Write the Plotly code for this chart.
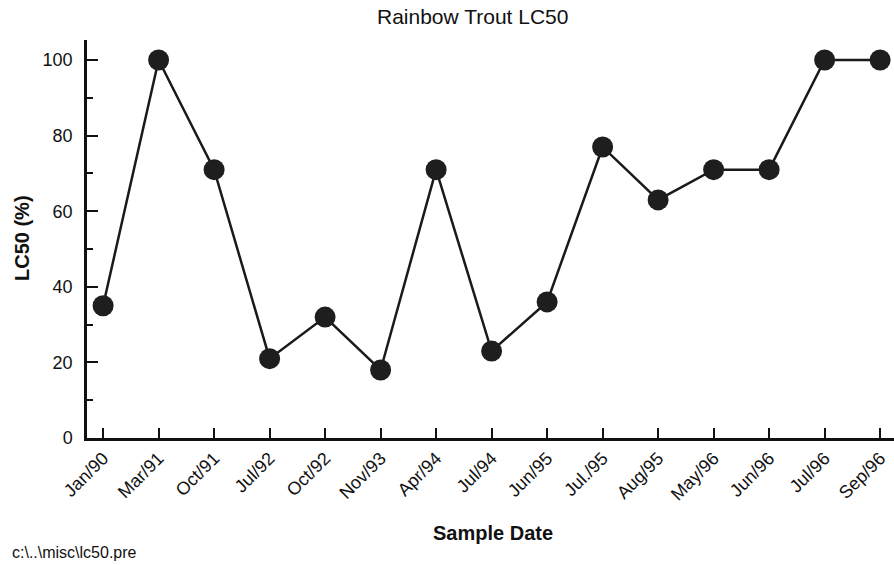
import plotly.graph_objects as go

dates = ["Jan/90", "Mar/91", "Oct/91", "Jul/92", "Oct/92", "Nov/93", "Apr/94", "Jul/94",
         "Jun/95", "Jul./95", "Aug/95", "May/96", "Jun/96", "Jul/96", "Sep/96"]
lc50 = [35, 100, 71, 21, 32, 18, 71, 23, 36, 77, 63, 71, 71, 100, 100]
y_ticks = [0, 20, 40, 60, 80, 100]

W, H = 894, 565
L, R, T, B = 87, 0, 40, 127
PW, PH = W - L - R, H - T - B


def px(x):
    return (x - L) / PW


def py(y):
    return (H - B - y) / PH


fig = go.Figure()
fig.add_trace(go.Scatter(
    x=list(range(len(dates))), y=lc50, mode="lines+markers",
    line=dict(color="#1a1a1a", width=2.5),
    marker=dict(size=21, color="#1e1e1e"),
    showlegend=False, cliponaxis=False,
))

font = "Liberation Sans, Arial, Helvetica, sans-serif"
fig.update_layout(
    width=W, height=H,
    margin=dict(l=L, r=R, t=T, b=B, autoexpand=False),
    paper_bgcolor="white", plot_bgcolor="white",
    font=dict(family=font, color="#111111"),
)
fig.update_xaxes(
    range=[-0.29, 14.25], automargin=False,
    tickmode="array", tickvals=list(range(len(dates))), ticktext=dates,
    tickangle=-45, tickfont=dict(size=18),
    ticks="inside", ticklen=10, tickwidth=2, tickcolor="#111111",
    showline=True, linecolor="#111111", linewidth=2.5,
    showgrid=False, zeroline=False,
)
fig.update_yaxes(
    range=[0, 105.3], automargin=False,
    tickmode="array", tickvals=y_ticks,
    tickfont=dict(size=18), ticklabelstandoff=8,
    ticks="inside", ticklen=11, tickwidth=2, tickcolor="#111111",
    minor=dict(ticks="inside", ticklen=6, tickwidth=1.5, tickcolor="#111111",
               tickmode="array", tickvals=[10, 30, 50, 70, 90]),
    showline=True, linecolor="#111111", linewidth=2.5,
    showgrid=False, zeroline=False,
)
# title
fig.add_annotation(text="Rainbow Trout LC50", xref="paper", yref="paper",
                   x=px(472), y=py(17), xanchor="center", yanchor="middle",
                   showarrow=False, font=dict(size=21, family=font))
# axis titles
fig.add_annotation(text="<b>Sample Date</b>", xref="paper", yref="paper",
                   x=px(493), y=py(533), xanchor="center", yanchor="middle",
                   showarrow=False, font=dict(size=20, family=font))
fig.add_annotation(text="<b>LC50 (%)</b>", xref="paper", yref="paper",
                   x=px(22), y=py(238), xanchor="center", yanchor="middle",
                   textangle=-90, showarrow=False, font=dict(size=20, family=font))
# footer
fig.add_annotation(text="c:\\..\\misc\\lc50.pre", xref="paper", yref="paper",
                   x=px(10), y=py(552), xanchor="left", yanchor="middle",
                   showarrow=False, font=dict(size=16, family=font))
fig.write_html("out.html", config={"displayModeBar": False},
               post_script="document.body.style.margin='0';document.body.style.overflow='hidden';")
